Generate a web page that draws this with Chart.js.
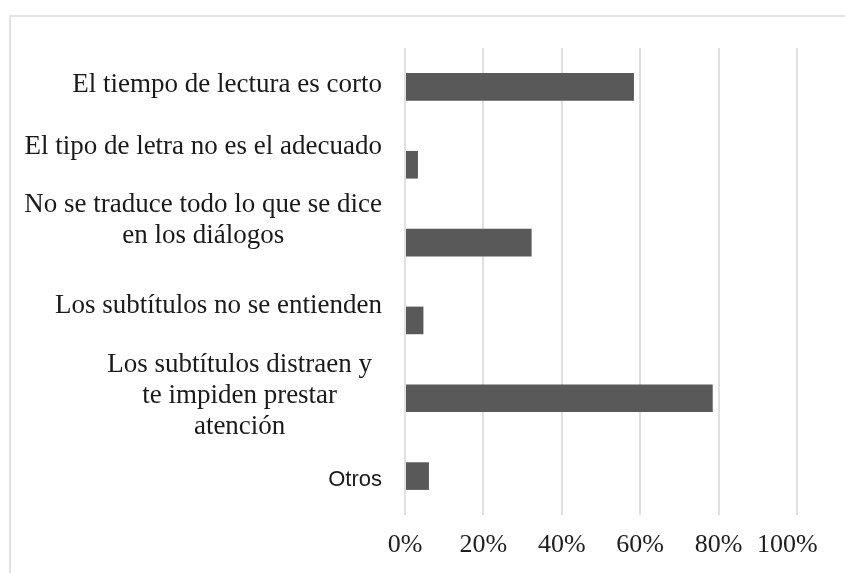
<!DOCTYPE html>
<html>
<head>
<meta charset="utf-8">
<script src="https://cdn.jsdelivr.net/npm/chart.js@4/dist/chart.umd.min.js"></script>
<style>
  html, body { margin: 0; padding: 0; background: #fff; }
  #wrap { position: relative; width: 845px; height: 573px; overflow: hidden; }
  #frame { position: absolute; left: 9px; top: 15px; width: 900px; height: 600px;
           border-left: 2px solid #e3e3e3; border-top: 2px solid #e3e3e3; }
  #myChart { position: absolute; left: 0; top: 0; }
</style>
</head>
<body>
<div id="wrap">
  <div id="frame"></div>
  <canvas id="myChart" width="845" height="573"></canvas>
</div>
<script>
// カテゴリ（複数行ラベル）
var categories = [
    ['El tiempo de lectura es corto'],
    ['El tipo de letra no es el adecuado'],
    ['No se traduce todo lo que se dice', 'en los diálogos'],
    ['Los subtítulos no se entienden'],
    ['Los subtítulos distraen y', 'te impiden prestar', 'atención'],
    ['Otros']
];

// 割合（%）
var values = [58.4, 3.3, 32.3, 4.7, 78.5, 6.1];

// X軸の目盛り
var xTicks = [0, 20, 40, 60, 80, 100];

// ラベルのずれ（Excel風の配置）
var labelShift = [-2, -18, -22, -15, -2, 4];
var labelShiftX = [0, 0, 0, 0, -10, 0];

// 左側のカテゴリラベルを描く
var categoryLabels = {
    id: 'categoryLabels',
    afterDraw: function(chart) {
        var ctx = chart.ctx;
        var yScale = chart.scales.y;
        ctx.save();
        ctx.fillStyle = '#1a1a1a';
        ctx.textAlign = 'center';
        ctx.textBaseline = 'middle';
        chart.data.labels.forEach(function(lines, i) {
            ctx.font = i === 5 ? '22px "Liberation Sans"' : '27px "Liberation Serif"';
            var w = Math.max.apply(null, lines.map(function(l) { return ctx.measureText(l).width; }));
            var cx = yScale.right - 23 - w / 2 + labelShiftX[i];
            var cy = yScale.getPixelForValue(i) + labelShift[i];
            lines.forEach(function(l, j) {
                ctx.fillText(l, cx, cy + (j - (lines.length - 1) / 2) * 31);
            });
        });
        ctx.restore();
    }
};

var ctx = document.getElementById('myChart').getContext('2d');
var myChart = new Chart(ctx, {
    type: 'bar',
    data: {
        labels: categories,
        datasets: [{
            data: values,
            backgroundColor: '#595959',
            borderWidth: 0,
            barPercentage: 0.355,
            categoryPercentage: 1
        }]
    },
    options: {
        indexAxis: 'y',
        responsive: false,
        animation: false,
        devicePixelRatio: 1,
        layout: { padding: { top: 48, right: 48, left: 0, bottom: 0 } },
        plugins: { legend: { display: false }, tooltip: { enabled: false } },
        scales: {
            x: {
                min: 0,
                max: 100,
                afterBuildTicks: function(scale) {
                    scale.ticks = xTicks.map(function(v) { return { value: v }; });
                },
                afterFit: function(scale) {
                    scale.height = 58;
                    scale.paddingLeft = 0;
                    scale.paddingRight = 0;
                },
                grid: { color: '#e0e0e0', lineWidth: 2, drawTicks: false },
                border: { display: false },
                ticks: {
                    padding: 15,
                    maxRotation: 0,
                    minRotation: 0,
                    autoSkip: false,
                    color: '#1f1f1f',
                    font: { family: 'Liberation Serif', size: 26 },
                    // 最後のラベルは少し左に寄せる
                    callback: function(v) { return v === 100 ? v + '%   ' : v + '%'; }
                }
            },
            y: {
                afterFit: function(scale) { scale.width = 405; },
                grid: { display: false },
                border: { display: false },
                ticks: { display: false }
            }
        }
    },
    plugins: [categoryLabels]
});
</script>
</body>
</html>
